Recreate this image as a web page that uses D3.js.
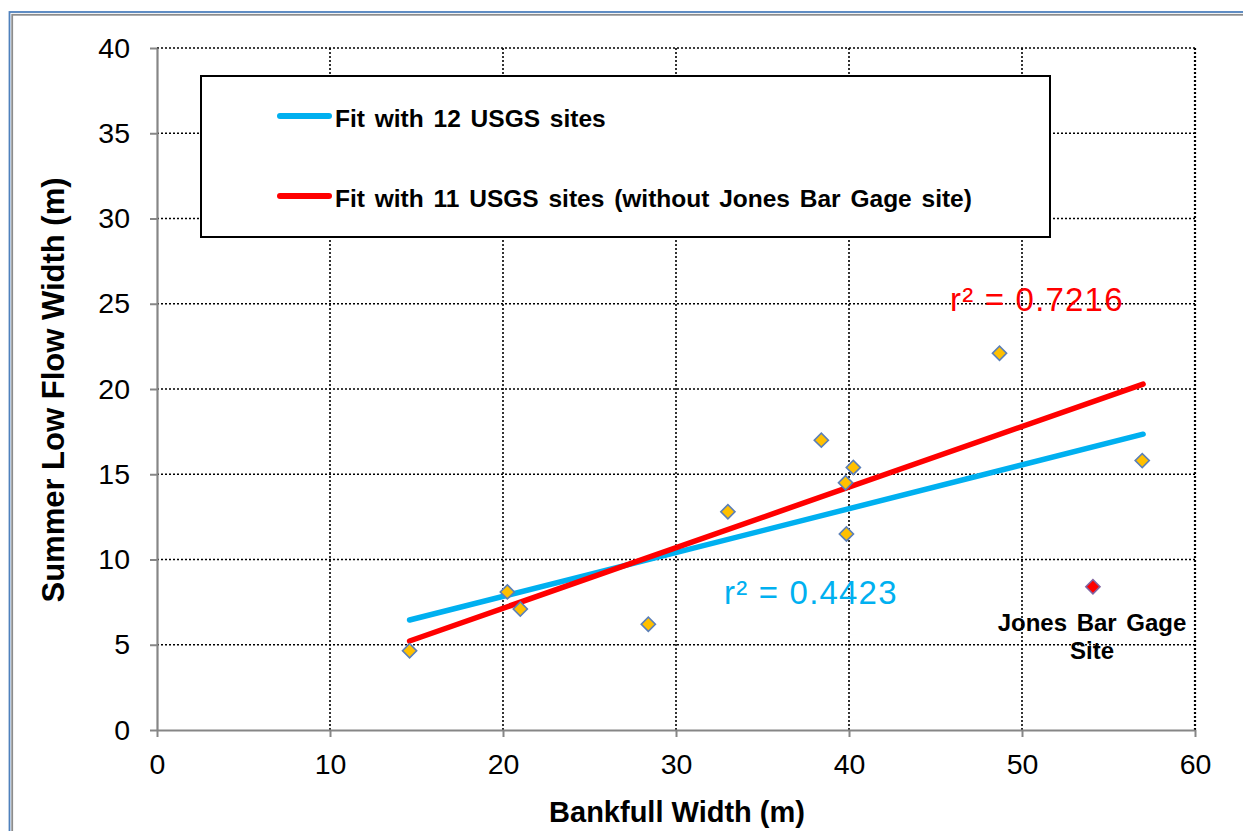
<!DOCTYPE html>
<html><head><meta charset="utf-8">
<script src="https://cdn.jsdelivr.net/npm/d3@7"></script>
<style>body{margin:0;background:#fff}svg{display:block;font-family:"Liberation Sans",Arial,sans-serif}</style>
</head><body><svg id="c" width="1243" height="831"></svg>
<script>
// ---- data ----
const bankfull = [14.6, 20.25, 21.0, 28.4, 33.0, 38.4, 39.8, 40.25, 39.85, 48.7, 56.95];
const lowFlow  = [4.65, 8.1, 7.1, 6.2, 12.8, 17.0, 14.5, 15.4, 11.5, 22.1, 15.8];
const jonesBar = [54.1, 8.4];
const fit12 = [[14.6, 6.45], [57.0, 17.35]];
const fit11 = [[14.6, 5.22], [57.0, 20.29]];
const xTicks = [0, 10, 20, 30, 40, 50, 60];
const yTicks = [0, 5, 10, 15, 20, 25, 30, 35, 40];
const legendLabels = ["Fit with 12 USGS sites", "Fit with 11 USGS sites (without Jones Bar Gage site)"];
const r2Labels = ["r² = 0.4423", "r² = 0.7216"];
const blue = "#00B0F0", red = "#FF0000";

const svg = d3.select("#c");
// outer frame
svg.append("rect").attr("x", 9.5).attr("y", 12).attr("width", 1300).attr("height", 900)
  .attr("fill", "none").attr("stroke", "#4F81BD").attr("stroke-width", 1.8);
svg.append("rect").attr("x", 12.2).attr("y", 14.8).attr("width", 1300).attr("height", 900)
  .attr("fill", "none").attr("stroke", "#8C8C8C").attr("stroke-width", 1.8);

const x = d3.scaleLinear().domain([0, 60]).range([157, 1195]);
const y = d3.scaleLinear().domain([0, 40]).range([730, 48]);

// gridlines
const g = svg.append("g");
g.selectAll(".vg").data(xTicks.filter(d => d > 0)).join("line")
  .attr("x1", d => x(d)).attr("x2", d => x(d)).attr("y1", y(0)).attr("y2", y(40))
  .attr("stroke", "#000").attr("stroke-width", d => d === 60 ? 2.2 : 1.6).attr("stroke-dasharray", "2,2");
g.selectAll(".hg").data(yTicks.filter(d => d > 0)).join("line")
  .attr("x1", x(0)).attr("x2", x(60)).attr("y1", d => y(d)).attr("y2", d => y(d))
  .attr("stroke", "#000").attr("stroke-width", 1.6).attr("stroke-dasharray", "2,2");

// axes
const xAxis = svg.append("g").attr("transform", `translate(0,${y(0)})`)
  .call(d3.axisBottom(x).tickValues(xTicks).tickSize(7).tickPadding(17).tickSizeOuter(0));
const yAxis = svg.append("g").attr("transform", `translate(${x(0)},0)`)
  .call(d3.axisLeft(y).tickValues(yTicks).tickSize(7).tickPadding(20).tickSizeOuter(0));
[xAxis, yAxis].forEach(a => {
  a.select(".domain").attr("stroke", "#868686").attr("stroke-width", 2.2);
  a.selectAll(".tick line").attr("stroke", "#868686").attr("stroke-width", 2);
  a.selectAll(".tick text").attr("fill", "#000").attr("font-size", 28.5)
    .attr("font-family", "'Liberation Sans', Arial, sans-serif");
});

// legend box
svg.append("rect").attr("x", 201).attr("y", 76).attr("width", 849).attr("height", 161)
  .attr("fill", "#fff").attr("stroke", "#000").attr("stroke-width", 2);
const legY = [116, 196];
[blue, red].forEach((c, i) => {
  svg.append("line").attr("x1", 280).attr("x2", 329).attr("y1", legY[i]).attr("y2", legY[i])
    .attr("stroke", c).attr("stroke-width", 6).attr("stroke-linecap", "round");
  svg.append("text").attr("x", 335).attr("y", legY[i] + 11).text(legendLabels[i])
    .attr("font-size", 24.5).attr("font-weight", "bold").attr("word-spacing", 3);
});

// fit lines
const line = d3.line().x(d => x(d[0])).y(d => y(d[1]));
svg.append("path").datum(fit12).attr("d", line).attr("fill", "none")
  .attr("stroke", blue).attr("stroke-width", 5.5).attr("stroke-linecap", "round");
svg.append("path").datum(fit11).attr("d", line).attr("fill", "none")
  .attr("stroke", red).attr("stroke-width", 5.5).attr("stroke-linecap", "round");

// markers
const diamond = d3.symbol().type(d3.symbolSquare).size(100);
const pts = bankfull.map((b, i) => [b, lowFlow[i]]);
svg.selectAll(".pt").data(pts).join("path")
  .attr("d", diamond)
  .attr("transform", d => `translate(${x(d[0])},${y(d[1])}) rotate(45)`)
  .attr("fill", "#FFC000").attr("stroke", "#5B7FB8").attr("stroke-width", 1.6);
svg.append("path").attr("d", diamond)
  .attr("transform", `translate(${x(jonesBar[0])},${y(jonesBar[1])}) rotate(45)`)
  .attr("fill", "#FF0000").attr("stroke", "#8064A2").attr("stroke-width", 1.6);

// Jones Bar label
const jl = svg.append("text").attr("text-anchor", "middle").attr("font-size", 24)
  .attr("font-weight", "bold").attr("word-spacing", 3);
jl.append("tspan").attr("x", 1092).attr("y", 631).text("Jones Bar Gage");
jl.append("tspan").attr("x", 1092).attr("y", 659).text("Site");

// r2 labels
svg.append("text").attr("x", 724).attr("y", 604).text(r2Labels[0])
  .attr("fill", blue).attr("font-size", 33).attr("letter-spacing", 1.2);
svg.append("text").attr("x", 950).attr("y", 311).text(r2Labels[1])
  .attr("fill", red).attr("font-size", 33).attr("letter-spacing", 1.2);

// axis titles
svg.append("text").attr("x", 677).attr("y", 822).attr("text-anchor", "middle")
  .attr("font-size", 29).attr("font-weight", "bold").text("Bankfull Width (m)");
svg.append("text").attr("transform", "translate(64,390) rotate(-90)").attr("text-anchor", "middle")
  .attr("font-size", 31).attr("font-weight", "bold").text("Summer Low Flow Width (m)");
</script></body></html>
